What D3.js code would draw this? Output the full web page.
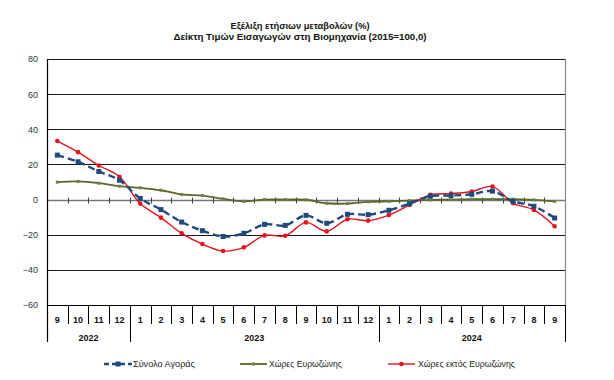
<!DOCTYPE html>
<html>
<head>
<meta charset="utf-8">
<script src="https://cdn.jsdelivr.net/npm/d3@7"></script>
<style>
  html, body { margin: 0; padding: 0; background: #fff; }
  svg { display: block; font-family: "Liberation Sans", Arial, sans-serif; }
</style>
</head>
<body>
<svg id="chart" width="614" height="380"></svg>
<script>
const titleLines = ["Εξέλιξη ετήσιων μεταβολών (%)", "Δείκτη Τιμών Εισαγωγών στη Βιομηχανία (2015=100,0)"];
const months = ["9","10","11","12","1","2","3","4","5","6","7","8","9","10","11","12","1","2","3","4","5","6","7","8","9"];
const yearLabels = ["2022", "2023", "2024"];
const yearStart = [0, 4, 16];
const yearEnd = [4, 16, 25];
const yTicks = [80, 60, 40, 20, 0, -20, -40, -60];
const seriesNames = ["Σύνολο Αγοράς", "Χώρες Ευρωζώνης", "Χώρες εκτός Ευρωζώνης"];
const totalMarket = [25.3, 21.5, 16, 11, 0.6, -5.7, -12.8, -17.7, -21, -19.2, -14.1, -14.7, -9, -13.5, -8.4, -8.6, -6.1, -2.3, 1.9, 2.3, 3, 4.8, -1, -3.8, -10.5];
const euroArea = [9.9, 10.3, 9.3, 7.6, 6.7, 5.3, 2.9, 2.3, 0.4, -1, 0, 0, -0.1, -2.1, -2.3, -1.3, -1, -0.6, -0.2, 0, 0.2, 0.2, 0.2, -0.2, -1];
const nonEuroArea = [33.3, 27, 19.4, 13, -2.3, -10.3, -19.2, -25.3, -29.3, -27.2, -20.4, -20.6, -13, -18.1, -11.2, -12, -8.8, -3, 2.7, 3.4, 4.6, 7.4, -2.1, -5.9, -15.2];

const svg = d3.select("#chart");
const L = 47, R = 565, T = 59, B = 305;

const idx = months.map((d, i) => i);
const x = d3.scaleBand().domain(idx).range([L, R]).paddingInner(0).paddingOuter(0);
const y = d3.scaleLinear().domain([-60, 80]).range([B, T]);
const cx = i => x(i) + x.bandwidth() / 2;
const bnd = i => (i < months.length ? x(i) : R);

// title
svg.append("g").selectAll("text").data(titleLines).join("text")
  .attr("x", 300).attr("y", (d, i) => 29 + i * 10.5)
  .attr("text-anchor", "middle").attr("font-weight", "bold").attr("font-size", 9.5)
  .attr("fill", "#111")
  .attr("textLength", (d, i) => i === 0 ? 139 : 253).attr("lengthAdjust", "spacingAndGlyphs")
  .text(d => d);

// gridlines
svg.append("g").selectAll("line").data(yTicks.filter(v => v !== 0)).join("line")
  .attr("x1", L).attr("x2", R).attr("y1", d => Math.round(y(d)) + 0.5).attr("y2", d => Math.round(y(d)) + 0.5)
  .attr("stroke", "#1a1a1a").attr("stroke-width", 1);

// y labels
const yAxis = d3.axisLeft(y).tickValues(yTicks).tickSize(0).tickPadding(9).tickFormat(d3.format("d"));
const ya = svg.append("g").attr("transform", `translate(${L},0)`).call(yAxis);
ya.select(".domain").remove();
ya.selectAll("text").attr("font-size", 9).attr("fill", "#333").attr("font-family", "Liberation Sans, Arial, sans-serif");

// right border
svg.append("line").attr("x1", R + 0.5).attr("x2", R + 0.5).attr("y1", T).attr("y2", B)
  .attr("stroke", "#888").attr("stroke-width", 1.2);

// zero axis with ticks
const y0 = Math.round(y(0)) + 0.5;
svg.append("line").attr("x1", L).attr("x2", R).attr("y1", y0).attr("y2", y0)
  .attr("stroke", "#777").attr("stroke-width", 1.6);
svg.append("g").selectAll("line").data(d3.range(1, months.length)).join("line")
  .attr("x1", d => Math.round(bnd(d)) + 0.5).attr("x2", d => Math.round(bnd(d)) + 0.5)
  .attr("y1", y0 - 3).attr("y2", y0 + 3).attr("stroke", "#444").attr("stroke-width", 1);

// bottom category axis
const yb = Math.round(y(-60)) + 0.5;
svg.append("line").attr("x1", L).attr("x2", R + 1).attr("y1", yb).attr("y2", yb)
  .attr("stroke", "#000").attr("stroke-width", 1.2);
svg.append("g").selectAll("line").data(d3.range(0, months.length + 1)).join("line")
  .attr("x1", d => Math.round(bnd(d)) + 0.5).attr("x2", d => Math.round(bnd(d)) + 0.5)
  .attr("y1", yb).attr("y2", d => (yearStart.includes(d) || d === months.length) ? 342 : 324)
  .attr("stroke", "#000").attr("stroke-width", 1);
// left axis line
svg.append("line").attr("x1", L + 0.5).attr("x2", L + 0.5).attr("y1", T).attr("y2", 342)
  .attr("stroke", "#000").attr("stroke-width", 1.2);

svg.append("g").selectAll("text").data(months).join("text")
  .attr("x", (d, i) => cx(i)).attr("y", 322.5)
  .attr("text-anchor", "middle").attr("font-size", 9).attr("font-weight", "bold").attr("fill", "#111")
  .text(d => d);
svg.append("g").selectAll("text").data(yearLabels).join("text")
  .attr("x", (d, i) => (bnd(yearStart[i]) + bnd(yearEnd[i])) / 2).attr("y", 340.5)
  .attr("text-anchor", "middle").attr("font-size", 9).attr("font-weight", "bold").attr("fill", "#111")
  .text(d => d);

// lines
const line = d3.line().x((d, i) => cx(i)).y(d => y(d)).curve(d3.curveCatmullRom.alpha(0.5));
const colors = ["#1f4a7c", "#56692a", "#e3131f"];

svg.append("path").datum(euroArea).attr("d", line).attr("fill", "none")
  .attr("stroke", colors[1]).attr("stroke-width", 1.8);
svg.append("g").selectAll("rect").data(euroArea).join("rect")
  .attr("x", (d, i) => cx(i) - 1.5).attr("y", d => y(d) - 1.5).attr("width", 3).attr("height", 3)
  .attr("fill", "#6f7f45");

svg.append("path").datum(nonEuroArea).attr("d", line).attr("fill", "none")
  .attr("stroke", colors[2]).attr("stroke-width", 1.4);
svg.append("g").selectAll("circle").data(nonEuroArea).join("circle")
  .attr("cx", (d, i) => cx(i)).attr("cy", d => y(d)).attr("r", 2.3).attr("fill", colors[2]);

svg.append("path").datum(totalMarket).attr("d", line).attr("fill", "none")
  .attr("stroke", colors[0]).attr("stroke-width", 2.4).attr("stroke-dasharray", "7,4");
svg.append("g").selectAll("rect").data(totalMarket).join("rect")
  .attr("x", (d, i) => cx(i) - 2.5).attr("y", d => y(d) - 2.5).attr("width", 5).attr("height", 5)
  .attr("fill", colors[0]);

// legend
const legX = [104, 240, 388];
const legY = 364;
const lg = svg.append("g");
// total market symbol
lg.append("line").attr("x1", legX[0]).attr("x2", legX[0] + 28).attr("y1", legY).attr("y2", legY)
  .attr("stroke", colors[0]).attr("stroke-width", 2.4).attr("stroke-dasharray", "5,3");
lg.append("rect").attr("x", legX[0] + 11.5).attr("y", legY - 2.5).attr("width", 5).attr("height", 5).attr("fill", colors[0]);
lg.append("line").attr("x1", legX[1]).attr("x2", legX[1] + 27).attr("y1", legY).attr("y2", legY)
  .attr("stroke", colors[1]).attr("stroke-width", 1.8);
lg.append("rect").attr("x", legX[1] + 12).attr("y", legY - 1.5).attr("width", 3).attr("height", 3).attr("fill", "#6f7f45");
lg.append("line").attr("x1", legX[2]).attr("x2", legX[2] + 27).attr("y1", legY).attr("y2", legY)
  .attr("stroke", colors[2]).attr("stroke-width", 1.4);
lg.append("circle").attr("cx", legX[2] + 13.5).attr("cy", legY).attr("r", 2.3).attr("fill", colors[2]);
const legTextX = [133, 269, 418];
const legW = [62, 73, 97];
lg.selectAll("text").data(seriesNames).join("text")
  .attr("x", (d, i) => legTextX[i]).attr("y", legY + 3.2)
  .attr("font-size", 9).attr("fill", "#222")
  .attr("textLength", (d, i) => legW[i]).attr("lengthAdjust", "spacingAndGlyphs")
  .text(d => d);
</script>
</body>
</html>
